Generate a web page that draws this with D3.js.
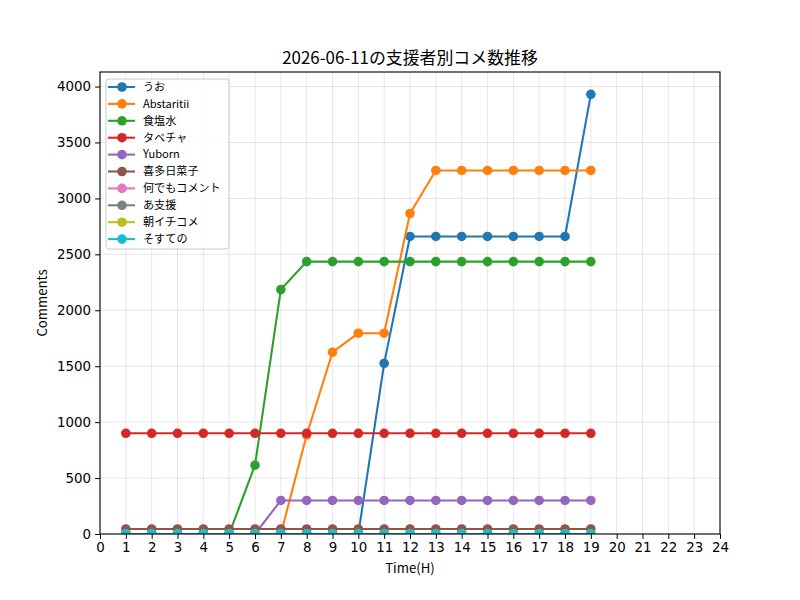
<!DOCTYPE html>
<html>
<head>
<meta charset="utf-8">
<script src="https://cdn.jsdelivr.net/npm/d3@7"></script>
<style>
  body { margin: 0; background: #fff; }
  text { font-family: "Noto Sans CJK JP", "DejaVu Sans", sans-serif; }
</style>
</head>
<body>
<div id="chart"></div>
<script>
const hours = d3.range(1, 20)
const names = ["うお", "Abstaritii", "食塩水", "タベチャ", "Yuborn", "喜多日菜子", "何でもコメント", "あ支援", "朝イチコメ", "そすての"]
const colors = ["#1f77b4", "#ff7f0e", "#2ca02c", "#d62728", "#9467bd", "#8c564b", "#e377c2", "#7f7f7f", "#bcbd22", "#17becf"]

const uo = [0, 0, 0, 0, 0, 0, 0, 0, 0, 0, 1525, 2660, 2660, 2660, 2660, 2660, 2660, 2660, 3930]
const abstaritii = [0, 0, 0, 0, 0, 0, 0, 885, 1625, 1795, 1795, 2865, 3250, 3250, 3250, 3250, 3250, 3250, 3250]
const shokuensui = [0, 0, 0, 0, 0, 615, 2185, 2435, 2435, 2435, 2435, 2435, 2435, 2435, 2435, 2435, 2435, 2435, 2435]
const tabecha = [900, 900, 900, 900, 900, 900, 900, 900, 900, 900, 900, 900, 900, 900, 900, 900, 900, 900, 900]
const yuborn = [0, 0, 0, 0, 0, 0, 300, 300, 300, 300, 300, 300, 300, 300, 300, 300, 300, 300, 300]
const kita = [45, 45, 45, 45, 45, 45, 45, 45, 45, 45, 45, 45, 45, 45, 45, 45, 45, 45, 45]
const nandemo = [0, 0, 0, 0, 0, 0, 0, 0, 0, 0, 0, 0, 0, 0, 0, 0, 0, 0, 0]
const ashien = [0, 0, 0, 0, 0, 0, 0, 0, 0, 0, 0, 0, 0, 0, 0, 0, 0, 0, 0]
const asaichi = [0, 0, 0, 0, 0, 0, 0, 0, 0, 0, 0, 0, 0, 0, 0, 0, 0, 0, 0]
const sosute = [0, 0, 0, 0, 0, 0, 0, 0, 0, 0, 0, 0, 0, 0, 0, 0, 0, 0, 0]
const values = [uo, abstaritii, shokuensui, tabecha, yuborn, kita, nandemo, ashien, asaichi, sosute]

const xTicks = d3.range(0, 25)
const yTicks = [0, 500, 1000, 1500, 2000, 2500, 3000, 3500, 4000]

const width = 800
const height = 600
const margin = {top: 72, right: 80, bottom: 66, left: 100}

const series = names.map((n, i) => ({
  name: n,
  color: colors[i],
  points: hours.map((h, j) => ({h: h, v: values[i][j]}))
}))

const x = d3.scaleLinear().domain([0, 24]).range([margin.left, width - margin.right])
const y = d3.scaleLinear().domain([0, 4130]).range([height - margin.bottom, margin.top])

const svg = d3.select("#chart").append("svg")
  .attr("width", width)
  .attr("height", height)

svg.append("clipPath").attr("id", "plotclip")
  .append("rect")
  .attr("x", margin.left).attr("y", margin.top)
  .attr("width", width - margin.left - margin.right)
  .attr("height", height - margin.top - margin.bottom)

// grid
svg.append("g")
  .selectAll("line")
  .data(xTicks)
  .join("line")
  .attr("x1", d => x(d)).attr("x2", d => x(d))
  .attr("y1", margin.top).attr("y2", height - margin.bottom)
  .attr("stroke", "#b0b0b0").attr("stroke-opacity", 0.3).attr("stroke-width", 1)

svg.append("g")
  .selectAll("line")
  .data(yTicks)
  .join("line")
  .attr("x1", margin.left).attr("x2", width - margin.right)
  .attr("y1", d => y(d)).attr("y2", d => y(d))
  .attr("stroke", "#b0b0b0").attr("stroke-opacity", 0.3).attr("stroke-width", 1)

// lines + markers
const line = d3.line().x(d => x(d.h)).y(d => y(d.v))

const plot = svg.append("g").attr("clip-path", "url(#plotclip)")
series.forEach(s => {
  const g = plot.append("g")
  g.append("path")
    .attr("d", line(s.points))
    .attr("fill", "none")
    .attr("stroke", s.color)
    .attr("stroke-width", 2.1)
    .attr("stroke-linejoin", "round")
  g.selectAll("circle")
    .data(s.points)
    .join("circle")
    .attr("cx", d => x(d.h))
    .attr("cy", d => y(d.v))
    .attr("r", 4.8)
    .attr("fill", s.color)
})

// axes
const xAxis = svg.append("g")
  .attr("transform", `translate(0,${height - margin.bottom})`)
  .call(d3.axisBottom(x).tickValues(xTicks).tickSize(4.9).tickPadding(4).tickFormat(d3.format("d")))
const yAxis = svg.append("g")
  .attr("transform", `translate(${margin.left},0)`)
  .call(d3.axisLeft(y).tickValues(yTicks).tickSize(4.9).tickPadding(4).tickFormat(d3.format("d")))

;[xAxis, yAxis].forEach(a => {
  a.select(".domain").remove()
  a.selectAll("text").attr("font-size", 13.4).attr("fill", "#000")
    .style("font-family", "'DejaVu Sans', sans-serif")
  a.selectAll("line").attr("stroke", "#000").attr("stroke-width", 1)
})

// frame
svg.append("rect")
  .attr("x", margin.left).attr("y", margin.top)
  .attr("width", width - margin.left - margin.right)
  .attr("height", height - margin.top - margin.bottom)
  .attr("fill", "none").attr("stroke", "#000").attr("stroke-width", 1.1)

// labels
svg.append("text")
  .attr("x", (margin.left + width - margin.right) / 2)
  .attr("y", 64)
  .attr("text-anchor", "middle")
  .attr("font-size", 16.9)
  .text("2026-06-11の支援者別コメ数推移")

svg.append("text")
  .attr("x", (margin.left + width - margin.right) / 2)
  .attr("y", 573)
  .attr("text-anchor", "middle")
  .attr("font-size", 13.2)
  .text("Time(H)")

svg.append("text")
  .attr("transform", `translate(47,${(margin.top + height - margin.bottom) / 2}) rotate(-90)`)
  .attr("text-anchor", "middle")
  .attr("font-size", 13.2)
  .text("Comments")

// legend
const legend = svg.append("g").attr("transform", "translate(106,79)")
legend.append("rect")
  .attr("x", 0).attr("y", 0)
  .attr("width", 123).attr("height", 170)
  .attr("rx", 3)
  .attr("fill", "#fff").attr("fill-opacity", 0.8)
  .attr("stroke", "#cccccc")

const item = legend.selectAll("g.item")
  .data(series)
  .join("g")
  .attr("class", "item")
  .attr("transform", (d, i) => `translate(0,${8 + i * 16.9})`)

item.append("line")
  .attr("x1", 2).attr("x2", 29)
  .attr("stroke", d => d.color).attr("stroke-width", 2.1)
item.append("circle")
  .attr("cx", 16).attr("r", 4.8)
  .attr("fill", d => d.color)
item.append("text")
  .attr("x", 37).attr("dy", "0.35em")
  .attr("font-size", 11.1)
  .text(d => d.name)
</script>
</body>
</html>
